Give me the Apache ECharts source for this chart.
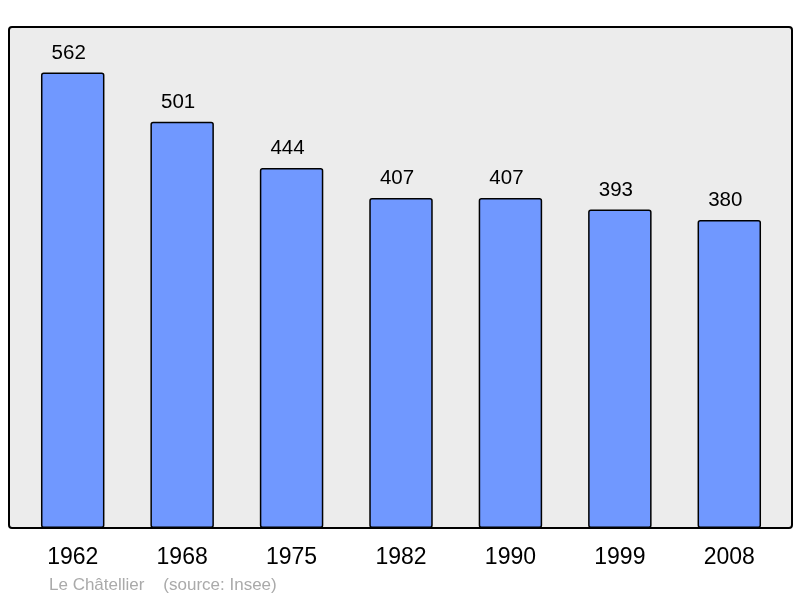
<!DOCTYPE html>
<html><head><meta charset="utf-8">
<script src="https://cdn.jsdelivr.net/npm/echarts@6/dist/echarts.min.js"></script>
<style>html,body{margin:0;padding:0;background:#fff}#c{width:800px;height:598px}</style>
</head><body><div id="c"></div>
<script>
const years = ['1962','1968','1975','1982','1990','1999','2008'];
const population = [562,501,444,407,407,393,380];
const footer = 'Le Châtellier    (source: Insee)';

const chart = echarts.init(document.getElementById('c'), null, {renderer:'canvas'});
chart.setOption({
  animation:false,
  backgroundColor:'#ffffff',
  graphic:[
    {type:'rect', z:-10, shape:{x:9,y:27,width:783,height:501,r:3}, style:{fill:'#ececec',stroke:'#000',lineWidth:2}},
    {type:'text', left:49, top:577, style:{text:footer, fill:'#aaaaaa', font:'17px "Liberation Sans", Arial, sans-serif'}}
  ],
  grid:{left:18, width:766, top:27, height:501},
  xAxis:{type:'category', data:years, axisLine:{show:false}, axisTick:{show:false},
    axisLabel:{color:'#000', fontSize:23, fontFamily:'Liberation Sans', margin:18}},
  yAxis:{type:'value', min:0, max:618, show:false, splitLine:{show:false}},
  series:[{type:'bar', data:population, barWidth:'58%',
    itemStyle:{color:'#7098ff', borderColor:'#000', borderWidth:1.5, borderRadius:2},
    label:{show:true, position:'top', distance:9, offset:[-4,0], color:'#000', fontSize:20.5, fontFamily:'Liberation Sans'}}]
});
</script></body></html>
